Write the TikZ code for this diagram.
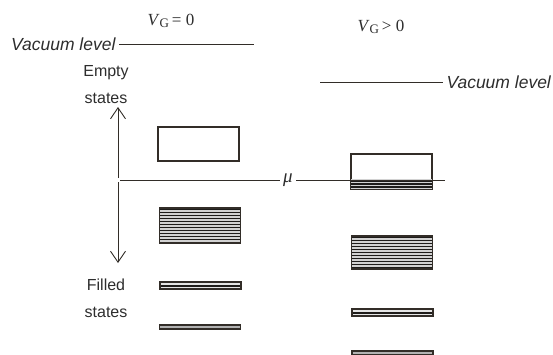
\documentclass[tikz,border=0pt]{standalone}
\usepackage{fontspec}
\setsansfont{Liberation Sans}
\setmainfont{Liberation Serif}
\usetikzlibrary{arrows.meta}
\definecolor{ink}{RGB}{50,45,40}
\definecolor{txt}{RGB}{45,45,45}
\definecolor{stripe}{RGB}{30,28,26}
\newcommand{\gatev}[1]{\textit{V}\raisebox{-0.35ex}{\fontsize{13}{15}\selectfont G}\,#1}

\begin{document}
\begin{tikzpicture}[
  x=1pt, y=-1pt,
  line width=1pt, color=ink,
  lbl/.style={font=\sffamily\fontsize{16}{19}\selectfont, text=txt, inner sep=1pt},
  vac/.style={font=\sffamily\itshape\fontsize{17.5}{20}\selectfont, text=txt, inner sep=3pt},
  volt/.style={font=\rmfamily\fontsize{17}{20}\selectfont, text=txt},
  band/.style={draw=ink, line width=1.1pt, minimum width=81pt, inner sep=0pt},
  emptyband/.style={band, fill=white, minimum height=34pt},
  fullband/.style={band, fill=gray!35, minimum height=#1pt,
    path picture={
      \foreach \k in {1.5,4.5,...,#1}
        \draw[line width=1.9pt, stripe]
          ([yshift=-\k pt]path picture bounding box.north west) --
          ([yshift=-\k pt]path picture bounding box.north east);
    }},
  thinband/.style={band, fill=gray!20, minimum height=7pt,
    path picture={
      \draw[line width=1.8pt, stripe]
        ([yshift=-3.9pt]path picture bounding box.north west) --
        ([yshift=-3.9pt]path picture bounding box.north east);
    }},
  flatband/.style={band, fill=gray!60, minimum height=4pt},
  axis/.style={-{Straight Barb[length=11pt,width=15pt]}, line width=0.9pt}
]
\useasboundingbox (0,0) rectangle (553,354);

% gate voltage labels
\node[volt] (vg0) at (171,21) {\gatev{= 0}};
\node[volt] (vgp) at (381,27) {\gatev{> 0}};

% vacuum levels
\node[vac, anchor=east] (vacL) at (119,44) {Vacuum level};
\coordinate (vacLend) at (254,44);
\draw (vacL.east) -- (vacLend);
\node[vac, anchor=west] (vacR) at (443,82) {Vacuum level};
\coordinate (vacRstart) at (320,82);
\draw (vacRstart) -- (vacR.west);

% energy axis
\node[lbl] (empty) at (106,73) {Empty};
\node[lbl] (emptys) at (106,98) {states};
\node[lbl] (filled) at (106,285) {Filled};
\node[lbl] (filleds) at (106,312) {states};
\coordinate (axU) at (118,178);
\coordinate (axD) at (118,182);
\coordinate (axTop) at (118,107);
\coordinate (axBot) at (118,263);
\draw[axis] (axU) -- (axTop);
\draw[axis] (axD) -- (axBot);

% chemical potential
\coordinate (mu0) at (120,180);
\node[font=\rmfamily\itshape\fontsize{19}{21}\selectfont, text=txt, inner sep=3pt] (mu) at (288,180) {μ};
\coordinate (mu1) at (445,180);

% levels, V_G = 0
\node[emptyband] (e0) at (198.5,144) {};
\node[fullband=35] (f0) at (200,225.5) {};
\node[thinband] (t0) at (200.5,285.5) {};
\node[flatband] (b0) at (200,327) {};

% levels, V_G > 0
\node[emptyband, minimum height=35pt] (e1) at (391.5,171.5) {};
\fill[gray!35] ([yshift=-26pt]e1.north west) rectangle (e1.south east);
\foreach \k in {27.5,30.5,33.5}
  \draw[line width=1.9pt, stripe] ([yshift=-\k pt]e1.north west) -- ([yshift=-\k pt]e1.north east);
\draw[line width=1.1pt] (e1.north west) rectangle (e1.south east);
\node[fullband=33] (f1) at (392,252.5) {};
\node[thinband] (t1) at (392.5,312.5) {};
\node[flatband] (b1) at (392.5,353) {};

\draw (mu0) -- (mu.west);
\draw (mu.east) -- (mu1);
\end{tikzpicture}
\end{document}
